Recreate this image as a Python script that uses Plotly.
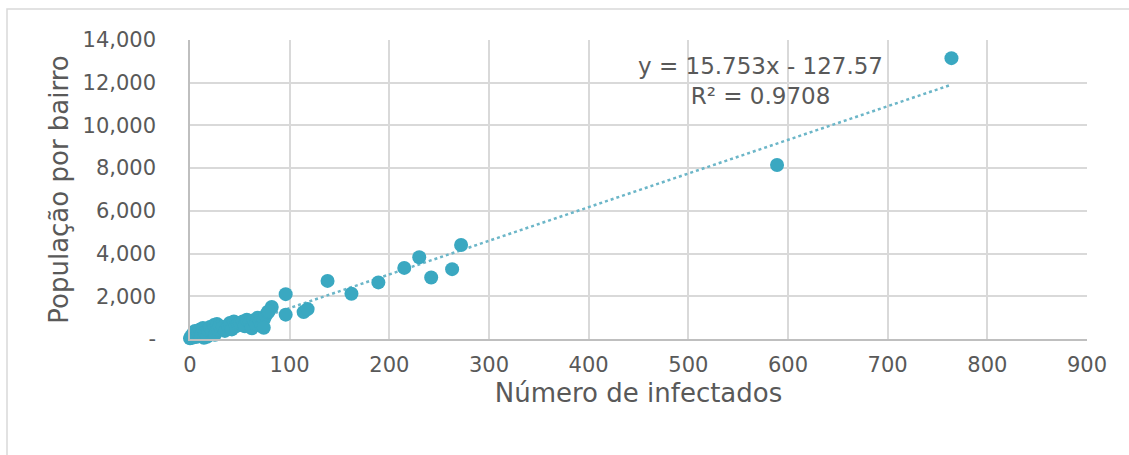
import plotly.graph_objects as go
import numpy as np

# Data: number of infected (x) vs population per neighbourhood (y)
infectados = [0, 1, 2, 3, 4, 5, 6, 8, 10, 11, 13, 14, 15, 17, 18, 20, 22, 24, 25, 27,
              28, 30, 33, 35, 38, 40, 42, 44, 46, 48, 50, 53, 55, 57, 60, 62, 64, 66,
              68, 70, 72, 74, 76, 78, 74, 82, 79,
              96, 96, 114, 118, 138, 162, 189, 215, 230, 242, 263, 272, 589, 764]
populacao = [30, 120, 60, 250, 180, 380, 90, 300, 450, 150, 520, 60, 300, 100, 420, 560,
             350, 650, 200, 700, 450, 600, 550, 380, 620, 750, 450, 820, 600, 700, 750,
             820, 600, 900, 800, 500, 880, 700, 1000, 850, 600, 900, 1100, 1250, 530,
             1500, 1300,
             2100, 1140, 1260, 1400, 2720, 2120, 2650, 3330, 3830, 2880, 3270, 4400,
             8150, 13150]

trend_slope = 15.753
trend_intercept = -127.57
trend_r2 = 0.9708

x_ticks = [0, 100, 200, 300, 400, 500, 600, 700, 800, 900]
y_ticks = [0, 2000, 4000, 6000, 8000, 10000, 12000, 14000]
y_ticktext = ["-", "2,000", "4,000", "6,000", "8,000", "10,000", "12,000", "14,000"]

x_title = "Número de infectados"
y_title = "População por bairro"

FONT = "DejaVu Sans"
TXT = "#595959"
GRID = "#D9D9D9"
MARK = "#3AA8C1"

xmin, xmax = min(infectados), max(infectados)
tx = [xmin, xmax]
ty = [trend_slope * v + trend_intercept for v in tx]

fig = go.Figure()
fig.add_trace(go.Scatter(
    x=tx, y=ty, mode="lines",
    line=dict(color="#6CB6C8", width=2.5, dash="dot"),
    hoverinfo="skip", showlegend=False))
fig.add_trace(go.Scatter(
    x=infectados, y=populacao, mode="markers",
    marker=dict(color=MARK, size=14, line=dict(width=0)),
    cliponaxis=False, showlegend=False))

eq_text = f"y = {trend_slope}x - {trend_intercept*-1:.2f}<br>R² = {trend_r2}"
fig.add_annotation(x=572, y=12060, xref="x", yref="y", text=eq_text,
                   showarrow=False, align="center", xanchor="center", yanchor="middle",
                   font=dict(family=FONT, size=23, color=TXT))

W, H = 1129, 455
L, R, T, B = 190, 1087, 40, 339
fig.add_shape(type="rect", xref="paper", yref="paper",
              x0=(7 - L) / (R - L), x1=(W + 10 - L) / (R - L),
              y0=(B - (H + 10)) / (B - T), y1=(B - 9) / (B - T),
              line=dict(color=GRID, width=1.5), fillcolor="rgba(0,0,0,0)", layer="below")

fig.update_layout(
    width=W, height=H,
    margin=dict(l=L, r=W - R, t=T, b=H - B),
    paper_bgcolor="white", plot_bgcolor="white",
    font=dict(family=FONT, color=TXT),
    xaxis=dict(range=[0, 900], tickvals=x_ticks, ticktext=[str(v) for v in x_ticks],
               showgrid=True, gridcolor=GRID, gridwidth=1.5, zeroline=False,
               showline=True, linecolor="#BFBFBF", linewidth=1.5, mirror=False,
               ticks="", ticklabelstandoff=6, tickfont=dict(family=FONT, size=21, color=TXT),
               title=dict(text=x_title, font=dict(family=FONT, size=26, color=TXT), standoff=8)),
    yaxis=dict(range=[0, 14000], tickvals=y_ticks, ticktext=y_ticktext,
               showgrid=True, gridcolor=GRID, gridwidth=1.5, zeroline=False,
               showline=True, linecolor="#BFBFBF", linewidth=1.5,
               ticks="", ticklabelstandoff=28, tickfont=dict(family=FONT, size=21, color=TXT),
               title=dict(text=y_title, font=dict(family=FONT, size=26, color=TXT), standoff=6)),
)

fig.write_html("out.html")
